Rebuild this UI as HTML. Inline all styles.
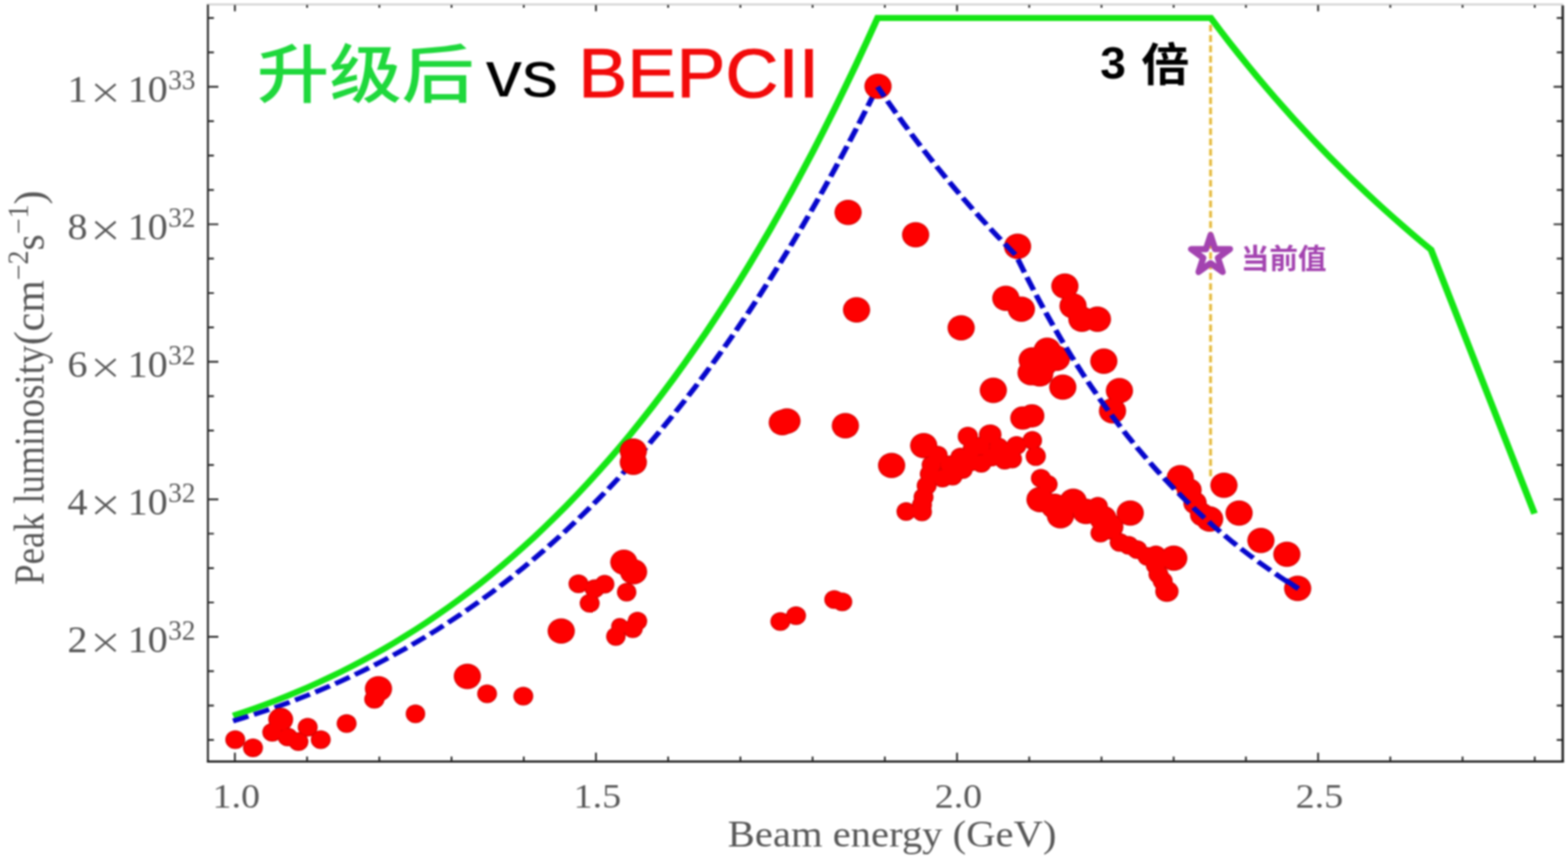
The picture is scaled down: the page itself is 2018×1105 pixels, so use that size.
<!DOCTYPE html>
<html lang="zh"><head><meta charset="utf-8"><title>Peak luminosity vs beam energy</title>
<style>
html,body{margin:0;padding:0;background:#fff;overflow:hidden}
body{width:2018px;height:1105px;font-family:"Liberation Sans",sans-serif}
svg{display:block}
</style></head><body>
<svg width="2018" height="1105" viewBox="0 0 2018 1105">
<defs><filter id="soft" x="0" y="0" width="2018" height="1105" filterUnits="userSpaceOnUse" color-interpolation-filters="sRGB"><feGaussianBlur stdDeviation="0.9"/></filter></defs>
<g filter="url(#soft)">
<rect x="0" y="0" width="2018" height="1105" fill="#fff"/>
<line x1="266" y1="5.8" x2="2012" y2="5.8" stroke="#d2d2d2" stroke-width="2.6"/>
<g stroke="#1c1c1c" fill="none">
<line x1="267.6" y1="6" x2="267.6" y2="980.5" stroke-width="2.4"/>
<line x1="2011.2" y1="7" x2="2011.2" y2="980.5" stroke-width="3"/>
<line x1="266.4" y1="979.6" x2="2012.7" y2="979.6" stroke-width="2.6"/>
<path d="M302.3 978.8v-10.5M302.3 6.4v8M395.2 978.8v-5.5M395.2 6.4v3.6M488.2 978.8v-5.5M488.2 6.4v3.6M581.1 978.8v-5.5M581.1 6.4v3.6M674.1 978.8v-5.5M674.1 6.4v3.6M767.0 978.8v-10.5M767.0 6.4v8M859.9 978.8v-5.5M859.9 6.4v3.6M952.9 978.8v-5.5M952.9 6.4v3.6M1045.8 978.8v-5.5M1045.8 6.4v3.6M1138.8 978.8v-5.5M1138.8 6.4v3.6M1231.7 978.8v-10.5M1231.7 6.4v8M1324.6 978.8v-5.5M1324.6 6.4v3.6M1417.6 978.8v-5.5M1417.6 6.4v3.6M1510.5 978.8v-5.5M1510.5 6.4v3.6M1603.5 978.8v-5.5M1603.5 6.4v3.6M1696.4 978.8v-10.5M1696.4 6.4v8M1789.3 978.8v-5.5M1789.3 6.4v3.6M1882.3 978.8v-5.5M1882.3 6.4v3.6M1975.2 978.8v-5.5M1975.2 6.4v3.6M268.5 23.1h6.8M2010.5 23.1h-7M268.5 67.4h6.8M2010.5 67.4h-7M268.5 111.6h12.5M2010.5 111.6h-11M268.5 155.8h6.8M2010.5 155.8h-7M268.5 200.1h6.8M2010.5 200.1h-7M268.5 244.3h6.8M2010.5 244.3h-7M268.5 288.5h12.5M2010.5 288.5h-11M268.5 332.7h6.8M2010.5 332.7h-7M268.5 377.0h6.8M2010.5 377.0h-7M268.5 421.2h6.8M2010.5 421.2h-7M268.5 465.4h12.5M2010.5 465.4h-11M268.5 509.6h6.8M2010.5 509.6h-7M268.5 553.9h6.8M2010.5 553.9h-7M268.5 598.1h6.8M2010.5 598.1h-7M268.5 642.3h12.5M2010.5 642.3h-11M268.5 686.5h6.8M2010.5 686.5h-7M268.5 730.8h6.8M2010.5 730.8h-7M268.5 775.0h6.8M2010.5 775.0h-7M268.5 819.2h12.5M2010.5 819.2h-11M268.5 863.4h6.8M2010.5 863.4h-7M268.5 907.7h6.8M2010.5 907.7h-7M268.5 951.9h6.8M2010.5 951.9h-7" stroke-width="2.2"/>
</g>
<g fill="#585858" font-family="'Liberation Serif', serif">
<text transform="translate(99.6,131.4) scale(1.08,1)" font-size="48" text-anchor="middle">1</text>
<path d="M122.8 108.2l26 22m0 -22l-26 22" stroke="#585858" stroke-width="2.7" fill="none"/>
<text transform="translate(164.2,131.4) scale(1.08,1)" font-size="48">10</text>
<text x="216.5" y="115.2" font-size="35">33</text>
<text transform="translate(99.6,308.3) scale(1.08,1)" font-size="48" text-anchor="middle">8</text>
<path d="M122.8 285.1l26 22m0 -22l-26 22" stroke="#585858" stroke-width="2.7" fill="none"/>
<text transform="translate(164.2,308.3) scale(1.08,1)" font-size="48">10</text>
<text x="216.5" y="292.1" font-size="35">32</text>
<text transform="translate(99.6,485.2) scale(1.08,1)" font-size="48" text-anchor="middle">6</text>
<path d="M122.8 462.0l26 22m0 -22l-26 22" stroke="#585858" stroke-width="2.7" fill="none"/>
<text transform="translate(164.2,485.2) scale(1.08,1)" font-size="48">10</text>
<text x="216.5" y="469.0" font-size="35">32</text>
<text transform="translate(99.6,662.1) scale(1.08,1)" font-size="48" text-anchor="middle">4</text>
<path d="M122.8 638.9l26 22m0 -22l-26 22" stroke="#585858" stroke-width="2.7" fill="none"/>
<text transform="translate(164.2,662.1) scale(1.08,1)" font-size="48">10</text>
<text x="216.5" y="645.9" font-size="35">32</text>
<text transform="translate(99.6,839.0) scale(1.08,1)" font-size="48" text-anchor="middle">2</text>
<path d="M122.8 815.8l26 22m0 -22l-26 22" stroke="#585858" stroke-width="2.7" fill="none"/>
<text transform="translate(164.2,839.0) scale(1.08,1)" font-size="48">10</text>
<text x="216.5" y="822.8" font-size="35">32</text>
<text x="304.1" y="1038.5" font-size="45" text-anchor="middle" textLength="61" lengthAdjust="spacingAndGlyphs">1.0</text>
<text x="768.8" y="1038.5" font-size="45" text-anchor="middle" textLength="61" lengthAdjust="spacingAndGlyphs">1.5</text>
<text x="1233.5" y="1038.5" font-size="45" text-anchor="middle" textLength="61" lengthAdjust="spacingAndGlyphs">2.0</text>
<text x="1698.1" y="1038.5" font-size="45" text-anchor="middle" textLength="61" lengthAdjust="spacingAndGlyphs">2.5</text>
<text x="936.6" y="1088.5" font-size="48" textLength="423" lengthAdjust="spacingAndGlyphs">Beam energy (GeV)</text>
<text transform="translate(56,752.5) rotate(-90)" font-size="55" textLength="308" lengthAdjust="spacingAndGlyphs">Peak luminosity</text>
<text transform="translate(56,444) rotate(-90)" font-size="55" textLength="199" lengthAdjust="spacingAndGlyphs">(cm<tspan dy="-20" font-size="37">−2</tspan><tspan dy="20">s</tspan><tspan dy="-20" font-size="37">−1</tspan><tspan dy="20">)</tspan></text>
</g>
<g transform="scale(1.14,1)" fill="none" stroke-linejoin="miter">
<path d="M263.14 920.61L275.26 916.00L287.39 911.19L299.52 906.17L311.64 900.92L323.77 895.45L335.90 889.74L348.02 883.80L360.15 877.61L372.28 871.17L384.40 864.47L396.53 857.50L408.66 850.26L420.78 842.74L432.91 834.93L445.04 826.83L457.16 818.43L469.29 809.72L481.41 800.69L493.54 791.34L505.67 781.65L517.79 771.63L529.92 761.26L542.05 750.53L554.17 739.44L566.30 727.98L578.43 716.14L590.55 703.91L602.68 691.28L614.81 678.25L626.93 664.81L639.06 650.94L651.19 636.65L663.31 621.91L675.44 606.72L687.57 591.08L699.69 574.97L711.82 558.39L723.95 541.32L736.07 523.76L748.20 505.69L760.32 487.11L772.45 468.00L784.58 448.36L796.70 428.18L808.83 407.45L820.96 386.16L833.08 364.29L845.21 341.84L857.34 318.80L869.46 295.15L881.59 270.89L893.72 246.00L905.84 220.48L917.97 194.32L930.10 167.49L942.22 140.00L954.35 111.84L966.48 82.98L978.60 53.42L990.73 23.15L1366.93 23.15L1377.29 38.75L1387.65 54.02L1398.00 68.97L1408.36 83.60L1418.72 97.92L1429.08 111.95L1439.44 125.69L1449.80 139.14L1460.15 152.32L1470.51 165.23L1480.87 177.88L1491.23 190.27L1501.59 202.41L1511.94 214.31L1522.30 225.97L1532.66 237.40L1543.02 248.61L1553.38 259.60L1563.74 270.37L1574.09 280.94L1584.45 291.30L1594.81 301.46L1605.17 311.42L1615.53 321.20L1732.37 660.80" stroke="#14e614" stroke-width="7.6"/>
<path d="M263.14 927.47L275.26 923.29L287.39 918.91L299.52 914.34L311.64 909.57L323.77 904.60L335.90 899.41L348.02 894.01L360.15 888.38L372.28 882.53L384.40 876.43L396.53 870.10L408.66 863.52L420.78 856.68L432.91 849.59L445.04 842.22L457.16 834.58L469.29 826.66L481.41 818.45L493.54 809.95L505.67 801.15L517.79 792.03L529.92 782.61L542.05 772.85L554.17 762.77L566.30 752.35L578.43 741.59L590.55 730.47L602.68 718.99L614.81 707.15L626.93 694.93L639.06 682.32L651.19 669.32L663.31 655.93L675.44 642.12L687.57 627.90L699.69 613.26L711.82 598.18L723.95 582.66L736.07 566.70L748.20 550.27L760.32 533.38L772.45 516.01L784.58 498.16L796.70 479.81L808.83 460.97L820.96 441.61L833.08 421.73L845.21 401.32L857.34 380.37L869.46 358.87L881.59 336.82L893.72 314.19L905.84 290.99L917.97 267.21L930.10 242.82L942.22 217.83L954.35 192.22L966.48 165.99L978.60 139.12L990.73 111.60" stroke="#0606cc" stroke-width="6.2" stroke-dasharray="18.3 6.7"/>
</g>
<g fill="#d80000">
<ellipse cx="302.8" cy="951.4" rx="12.8" ry="12.0"/>
<ellipse cx="325.6" cy="961.9" rx="12.8" ry="12.0"/>
<ellipse cx="361.3" cy="925.6" rx="16.0" ry="15.0"/>
<ellipse cx="350.4" cy="942.1" rx="12.8" ry="12.0"/>
<ellipse cx="370.2" cy="948.0" rx="12.8" ry="12.0"/>
<ellipse cx="384.1" cy="954.0" rx="12.8" ry="12.0"/>
<ellipse cx="396.0" cy="935.5" rx="12.8" ry="12.0"/>
<ellipse cx="412.8" cy="951.4" rx="12.8" ry="12.0"/>
<ellipse cx="446.1" cy="930.8" rx="12.8" ry="12.0"/>
<ellipse cx="487.1" cy="886.0" rx="17.5" ry="16.3"/>
<ellipse cx="481.8" cy="899.5" rx="13.0" ry="12.0"/>
<ellipse cx="534.7" cy="918.3" rx="12.5" ry="12.0"/>
<ellipse cx="601.5" cy="870.1" rx="17.5" ry="16.3"/>
<ellipse cx="626.9" cy="892.5" rx="12.7" ry="12.0"/>
<ellipse cx="673.5" cy="895.5" rx="12.8" ry="12.0"/>
<ellipse cx="722.3" cy="811.8" rx="17.5" ry="16.3"/>
<ellipse cx="744.5" cy="751.0" rx="12.8" ry="12.0"/>
<ellipse cx="758.9" cy="776.1" rx="12.8" ry="12.0"/>
<ellipse cx="765.3" cy="757.3" rx="12.8" ry="12.0"/>
<ellipse cx="778.2" cy="751.4" rx="12.5" ry="12.0"/>
<ellipse cx="802.9" cy="723.2" rx="17.5" ry="16.3"/>
<ellipse cx="815.4" cy="735.5" rx="17.5" ry="16.3"/>
<ellipse cx="806.5" cy="761.7" rx="12.5" ry="12.0"/>
<ellipse cx="792.6" cy="818.8" rx="12.5" ry="12.0"/>
<ellipse cx="797.6" cy="805.9" rx="11.0" ry="11.0"/>
<ellipse cx="814.4" cy="808.8" rx="12.8" ry="12.0"/>
<ellipse cx="820.4" cy="798.9" rx="12.5" ry="12.0"/>
<ellipse cx="1004.3" cy="799.5" rx="12.8" ry="12.0"/>
<ellipse cx="1024.5" cy="792.0" rx="12.8" ry="12.0"/>
<ellipse cx="1073.7" cy="771.2" rx="12.8" ry="12.0"/>
<ellipse cx="1084.0" cy="774.2" rx="12.8" ry="12.0"/>
<ellipse cx="815.1" cy="580.3" rx="17.5" ry="16.3"/>
<ellipse cx="815.1" cy="594.7" rx="17.5" ry="16.3"/>
<ellipse cx="1006.8" cy="543.6" rx="17.5" ry="16.3"/>
<ellipse cx="1012.8" cy="541.6" rx="17.5" ry="16.3"/>
<ellipse cx="1088.0" cy="547.6" rx="17.5" ry="16.3"/>
<ellipse cx="1147.5" cy="598.8" rx="17.5" ry="16.3"/>
<ellipse cx="1130.0" cy="111.0" rx="17.5" ry="16.3"/>
<ellipse cx="1091.5" cy="273.3" rx="17.5" ry="16.3"/>
<ellipse cx="1178.4" cy="302.0" rx="17.5" ry="16.3"/>
<ellipse cx="1309.6" cy="316.9" rx="17.5" ry="16.3"/>
<ellipse cx="1102.4" cy="398.6" rx="17.5" ry="16.3"/>
<ellipse cx="1237.0" cy="421.8" rx="17.5" ry="16.3"/>
<ellipse cx="1370.5" cy="368.0" rx="17.5" ry="16.3"/>
<ellipse cx="1294.5" cy="383.7" rx="17.5" ry="16.3"/>
<ellipse cx="1314.5" cy="397.7" rx="17.5" ry="16.3"/>
<ellipse cx="1381.0" cy="393.5" rx="17.5" ry="16.3"/>
<ellipse cx="1392.4" cy="410.6" rx="17.5" ry="16.3"/>
<ellipse cx="1412.4" cy="410.6" rx="17.5" ry="16.3"/>
<ellipse cx="1347.8" cy="450.5" rx="17.5" ry="16.3"/>
<ellipse cx="1328.4" cy="463.1" rx="17.5" ry="16.3"/>
<ellipse cx="1327.0" cy="479.5" rx="17.5" ry="16.3"/>
<ellipse cx="1338.1" cy="481.0" rx="17.5" ry="16.3"/>
<ellipse cx="1359.7" cy="460.9" rx="17.5" ry="16.3"/>
<ellipse cx="1344.0" cy="467.6" rx="17.5" ry="16.3"/>
<ellipse cx="1367.8" cy="498.0" rx="17.5" ry="16.3"/>
<ellipse cx="1278.4" cy="502.1" rx="17.5" ry="16.3"/>
<ellipse cx="1420.6" cy="464.6" rx="17.5" ry="16.3"/>
<ellipse cx="1440.7" cy="502.5" rx="17.5" ry="16.3"/>
<ellipse cx="1431.8" cy="528.5" rx="17.5" ry="16.3"/>
<ellipse cx="1316.2" cy="537.8" rx="16.0" ry="15.0"/>
<ellipse cx="1328.1" cy="534.9" rx="16.0" ry="15.0"/>
<ellipse cx="1188.8" cy="573.2" rx="17.5" ry="16.3"/>
<ellipse cx="1206.8" cy="585.6" rx="12.8" ry="12.0"/>
<ellipse cx="1199.0" cy="598.0" rx="12.8" ry="12.0"/>
<ellipse cx="1196.6" cy="609.8" rx="12.8" ry="12.0"/>
<ellipse cx="1192.6" cy="624.7" rx="12.8" ry="12.0"/>
<ellipse cx="1188.6" cy="639.6" rx="12.8" ry="12.0"/>
<ellipse cx="1186.6" cy="649.6" rx="12.8" ry="12.0"/>
<ellipse cx="1166.2" cy="658.1" rx="12.4" ry="12.0"/>
<ellipse cx="1186.6" cy="658.6" rx="12.8" ry="12.0"/>
<ellipse cx="1213.0" cy="615.0" rx="12.8" ry="12.0"/>
<ellipse cx="1226.0" cy="612.5" rx="12.8" ry="12.0"/>
<ellipse cx="1239.0" cy="604.0" rx="12.8" ry="12.0"/>
<ellipse cx="1222.0" cy="598.0" rx="12.8" ry="12.0"/>
<ellipse cx="1236.0" cy="588.0" rx="12.8" ry="12.0"/>
<ellipse cx="1245.6" cy="561.4" rx="13.0" ry="12.5"/>
<ellipse cx="1250.0" cy="594.0" rx="12.8" ry="12.0"/>
<ellipse cx="1252.0" cy="577.0" rx="12.8" ry="12.0"/>
<ellipse cx="1263.0" cy="596.0" rx="12.8" ry="12.0"/>
<ellipse cx="1262.0" cy="574.0" rx="12.8" ry="12.0"/>
<ellipse cx="1274.4" cy="558.9" rx="14.5" ry="13.0"/>
<ellipse cx="1276.0" cy="588.0" rx="12.8" ry="12.0"/>
<ellipse cx="1285.0" cy="575.0" rx="12.8" ry="12.0"/>
<ellipse cx="1290.0" cy="588.0" rx="12.8" ry="12.0"/>
<ellipse cx="1301.3" cy="579.8" rx="12.8" ry="12.0"/>
<ellipse cx="1308.3" cy="572.9" rx="12.8" ry="12.0"/>
<ellipse cx="1328.6" cy="566.5" rx="12.5" ry="12.0"/>
<ellipse cx="1333.0" cy="586.8" rx="13.0" ry="12.5"/>
<ellipse cx="1302.5" cy="590.5" rx="12.8" ry="12.0"/>
<ellipse cx="1293.0" cy="592.0" rx="12.8" ry="12.0"/>
<ellipse cx="1339.6" cy="615.2" rx="12.8" ry="12.0"/>
<ellipse cx="1348.3" cy="622.9" rx="12.8" ry="12.0"/>
<ellipse cx="1338.5" cy="642.6" rx="17.5" ry="16.3"/>
<ellipse cx="1357.1" cy="651.3" rx="17.5" ry="16.3"/>
<ellipse cx="1364.8" cy="663.4" rx="17.5" ry="16.3"/>
<ellipse cx="1381.2" cy="644.8" rx="17.5" ry="16.3"/>
<ellipse cx="1397.6" cy="657.9" rx="17.5" ry="16.3"/>
<ellipse cx="1412.9" cy="651.3" rx="12.8" ry="12.0"/>
<ellipse cx="1419.5" cy="666.7" rx="17.5" ry="16.3"/>
<ellipse cx="1454.6" cy="660.0" rx="17.5" ry="16.3"/>
<ellipse cx="1428.3" cy="677.6" rx="17.5" ry="16.3"/>
<ellipse cx="1416.3" cy="685.8" rx="12.8" ry="12.0"/>
<ellipse cx="1441.0" cy="697.8" rx="12.8" ry="12.0"/>
<ellipse cx="1452.6" cy="701.6" rx="12.8" ry="12.0"/>
<ellipse cx="1463.5" cy="707.1" rx="12.8" ry="12.0"/>
<ellipse cx="1476.7" cy="715.8" rx="12.8" ry="12.0"/>
<ellipse cx="1487.6" cy="713.7" rx="12.8" ry="12.0"/>
<ellipse cx="1510.6" cy="718.0" rx="17.5" ry="16.3"/>
<ellipse cx="1490.9" cy="738.8" rx="12.8" ry="12.0"/>
<ellipse cx="1496.4" cy="747.6" rx="12.8" ry="12.0"/>
<ellipse cx="1501.8" cy="760.7" rx="15.0" ry="13.5"/>
<ellipse cx="1487.5" cy="727.0" rx="12.8" ry="12.0"/>
<ellipse cx="1519.0" cy="614.5" rx="17.5" ry="16.3"/>
<ellipse cx="1530.5" cy="630.4" rx="16.0" ry="15.0"/>
<ellipse cx="1538.0" cy="647.0" rx="15.0" ry="14.5"/>
<ellipse cx="1547.0" cy="662.0" rx="15.5" ry="15.0"/>
<ellipse cx="1556.8" cy="667.6" rx="17.5" ry="16.3"/>
<ellipse cx="1575.2" cy="624.3" rx="17.5" ry="16.3"/>
<ellipse cx="1594.7" cy="660.0" rx="17.5" ry="16.3"/>
<ellipse cx="1622.8" cy="695.3" rx="17.5" ry="16.3"/>
<ellipse cx="1656.2" cy="713.0" rx="17.5" ry="16.3"/>
<ellipse cx="1670.1" cy="756.9" rx="17.5" ry="16.3"/>
</g>
<g fill="#fe0000">
<ellipse cx="302.8" cy="951.4" rx="11.4" ry="10.6"/>
<ellipse cx="325.6" cy="961.9" rx="11.4" ry="10.6"/>
<ellipse cx="361.3" cy="925.6" rx="14.6" ry="13.6"/>
<ellipse cx="350.4" cy="942.1" rx="11.4" ry="10.6"/>
<ellipse cx="370.2" cy="948.0" rx="11.4" ry="10.6"/>
<ellipse cx="384.1" cy="954.0" rx="11.4" ry="10.6"/>
<ellipse cx="396.0" cy="935.5" rx="11.4" ry="10.6"/>
<ellipse cx="412.8" cy="951.4" rx="11.4" ry="10.6"/>
<ellipse cx="446.1" cy="930.8" rx="11.4" ry="10.6"/>
<ellipse cx="487.1" cy="886.0" rx="16.1" ry="14.9"/>
<ellipse cx="481.8" cy="899.5" rx="11.6" ry="10.6"/>
<ellipse cx="534.7" cy="918.3" rx="11.1" ry="10.6"/>
<ellipse cx="601.5" cy="870.1" rx="16.1" ry="14.9"/>
<ellipse cx="626.9" cy="892.5" rx="11.3" ry="10.6"/>
<ellipse cx="673.5" cy="895.5" rx="11.4" ry="10.6"/>
<ellipse cx="722.3" cy="811.8" rx="16.1" ry="14.9"/>
<ellipse cx="744.5" cy="751.0" rx="11.4" ry="10.6"/>
<ellipse cx="758.9" cy="776.1" rx="11.4" ry="10.6"/>
<ellipse cx="765.3" cy="757.3" rx="11.4" ry="10.6"/>
<ellipse cx="778.2" cy="751.4" rx="11.1" ry="10.6"/>
<ellipse cx="802.9" cy="723.2" rx="16.1" ry="14.9"/>
<ellipse cx="815.4" cy="735.5" rx="16.1" ry="14.9"/>
<ellipse cx="806.5" cy="761.7" rx="11.1" ry="10.6"/>
<ellipse cx="792.6" cy="818.8" rx="11.1" ry="10.6"/>
<ellipse cx="797.6" cy="805.9" rx="9.6" ry="9.6"/>
<ellipse cx="814.4" cy="808.8" rx="11.4" ry="10.6"/>
<ellipse cx="820.4" cy="798.9" rx="11.1" ry="10.6"/>
<ellipse cx="1004.3" cy="799.5" rx="11.4" ry="10.6"/>
<ellipse cx="1024.5" cy="792.0" rx="11.4" ry="10.6"/>
<ellipse cx="1073.7" cy="771.2" rx="11.4" ry="10.6"/>
<ellipse cx="1084.0" cy="774.2" rx="11.4" ry="10.6"/>
<ellipse cx="815.1" cy="580.3" rx="16.1" ry="14.9"/>
<ellipse cx="815.1" cy="594.7" rx="16.1" ry="14.9"/>
<ellipse cx="1006.8" cy="543.6" rx="16.1" ry="14.9"/>
<ellipse cx="1012.8" cy="541.6" rx="16.1" ry="14.9"/>
<ellipse cx="1088.0" cy="547.6" rx="16.1" ry="14.9"/>
<ellipse cx="1147.5" cy="598.8" rx="16.1" ry="14.9"/>
<ellipse cx="1130.0" cy="111.0" rx="16.1" ry="14.9"/>
<ellipse cx="1091.5" cy="273.3" rx="16.1" ry="14.9"/>
<ellipse cx="1178.4" cy="302.0" rx="16.1" ry="14.9"/>
<ellipse cx="1309.6" cy="316.9" rx="16.1" ry="14.9"/>
<ellipse cx="1102.4" cy="398.6" rx="16.1" ry="14.9"/>
<ellipse cx="1237.0" cy="421.8" rx="16.1" ry="14.9"/>
<ellipse cx="1370.5" cy="368.0" rx="16.1" ry="14.9"/>
<ellipse cx="1294.5" cy="383.7" rx="16.1" ry="14.9"/>
<ellipse cx="1314.5" cy="397.7" rx="16.1" ry="14.9"/>
<ellipse cx="1381.0" cy="393.5" rx="16.1" ry="14.9"/>
<ellipse cx="1392.4" cy="410.6" rx="16.1" ry="14.9"/>
<ellipse cx="1412.4" cy="410.6" rx="16.1" ry="14.9"/>
<ellipse cx="1347.8" cy="450.5" rx="16.1" ry="14.9"/>
<ellipse cx="1328.4" cy="463.1" rx="16.1" ry="14.9"/>
<ellipse cx="1327.0" cy="479.5" rx="16.1" ry="14.9"/>
<ellipse cx="1338.1" cy="481.0" rx="16.1" ry="14.9"/>
<ellipse cx="1359.7" cy="460.9" rx="16.1" ry="14.9"/>
<ellipse cx="1344.0" cy="467.6" rx="16.1" ry="14.9"/>
<ellipse cx="1367.8" cy="498.0" rx="16.1" ry="14.9"/>
<ellipse cx="1278.4" cy="502.1" rx="16.1" ry="14.9"/>
<ellipse cx="1420.6" cy="464.6" rx="16.1" ry="14.9"/>
<ellipse cx="1440.7" cy="502.5" rx="16.1" ry="14.9"/>
<ellipse cx="1431.8" cy="528.5" rx="16.1" ry="14.9"/>
<ellipse cx="1316.2" cy="537.8" rx="14.6" ry="13.6"/>
<ellipse cx="1328.1" cy="534.9" rx="14.6" ry="13.6"/>
<ellipse cx="1188.8" cy="573.2" rx="16.1" ry="14.9"/>
<ellipse cx="1206.8" cy="585.6" rx="11.4" ry="10.6"/>
<ellipse cx="1199.0" cy="598.0" rx="11.4" ry="10.6"/>
<ellipse cx="1196.6" cy="609.8" rx="11.4" ry="10.6"/>
<ellipse cx="1192.6" cy="624.7" rx="11.4" ry="10.6"/>
<ellipse cx="1188.6" cy="639.6" rx="11.4" ry="10.6"/>
<ellipse cx="1186.6" cy="649.6" rx="11.4" ry="10.6"/>
<ellipse cx="1166.2" cy="658.1" rx="11.0" ry="10.6"/>
<ellipse cx="1186.6" cy="658.6" rx="11.4" ry="10.6"/>
<ellipse cx="1213.0" cy="615.0" rx="11.4" ry="10.6"/>
<ellipse cx="1226.0" cy="612.5" rx="11.4" ry="10.6"/>
<ellipse cx="1239.0" cy="604.0" rx="11.4" ry="10.6"/>
<ellipse cx="1222.0" cy="598.0" rx="11.4" ry="10.6"/>
<ellipse cx="1236.0" cy="588.0" rx="11.4" ry="10.6"/>
<ellipse cx="1245.6" cy="561.4" rx="11.6" ry="11.1"/>
<ellipse cx="1250.0" cy="594.0" rx="11.4" ry="10.6"/>
<ellipse cx="1252.0" cy="577.0" rx="11.4" ry="10.6"/>
<ellipse cx="1263.0" cy="596.0" rx="11.4" ry="10.6"/>
<ellipse cx="1262.0" cy="574.0" rx="11.4" ry="10.6"/>
<ellipse cx="1274.4" cy="558.9" rx="13.1" ry="11.6"/>
<ellipse cx="1276.0" cy="588.0" rx="11.4" ry="10.6"/>
<ellipse cx="1285.0" cy="575.0" rx="11.4" ry="10.6"/>
<ellipse cx="1290.0" cy="588.0" rx="11.4" ry="10.6"/>
<ellipse cx="1301.3" cy="579.8" rx="11.4" ry="10.6"/>
<ellipse cx="1308.3" cy="572.9" rx="11.4" ry="10.6"/>
<ellipse cx="1328.6" cy="566.5" rx="11.1" ry="10.6"/>
<ellipse cx="1333.0" cy="586.8" rx="11.6" ry="11.1"/>
<ellipse cx="1302.5" cy="590.5" rx="11.4" ry="10.6"/>
<ellipse cx="1293.0" cy="592.0" rx="11.4" ry="10.6"/>
<ellipse cx="1339.6" cy="615.2" rx="11.4" ry="10.6"/>
<ellipse cx="1348.3" cy="622.9" rx="11.4" ry="10.6"/>
<ellipse cx="1338.5" cy="642.6" rx="16.1" ry="14.9"/>
<ellipse cx="1357.1" cy="651.3" rx="16.1" ry="14.9"/>
<ellipse cx="1364.8" cy="663.4" rx="16.1" ry="14.9"/>
<ellipse cx="1381.2" cy="644.8" rx="16.1" ry="14.9"/>
<ellipse cx="1397.6" cy="657.9" rx="16.1" ry="14.9"/>
<ellipse cx="1412.9" cy="651.3" rx="11.4" ry="10.6"/>
<ellipse cx="1419.5" cy="666.7" rx="16.1" ry="14.9"/>
<ellipse cx="1454.6" cy="660.0" rx="16.1" ry="14.9"/>
<ellipse cx="1428.3" cy="677.6" rx="16.1" ry="14.9"/>
<ellipse cx="1416.3" cy="685.8" rx="11.4" ry="10.6"/>
<ellipse cx="1441.0" cy="697.8" rx="11.4" ry="10.6"/>
<ellipse cx="1452.6" cy="701.6" rx="11.4" ry="10.6"/>
<ellipse cx="1463.5" cy="707.1" rx="11.4" ry="10.6"/>
<ellipse cx="1476.7" cy="715.8" rx="11.4" ry="10.6"/>
<ellipse cx="1487.6" cy="713.7" rx="11.4" ry="10.6"/>
<ellipse cx="1510.6" cy="718.0" rx="16.1" ry="14.9"/>
<ellipse cx="1490.9" cy="738.8" rx="11.4" ry="10.6"/>
<ellipse cx="1496.4" cy="747.6" rx="11.4" ry="10.6"/>
<ellipse cx="1501.8" cy="760.7" rx="13.6" ry="12.1"/>
<ellipse cx="1487.5" cy="727.0" rx="11.4" ry="10.6"/>
<ellipse cx="1519.0" cy="614.5" rx="16.1" ry="14.9"/>
<ellipse cx="1530.5" cy="630.4" rx="14.6" ry="13.6"/>
<ellipse cx="1538.0" cy="647.0" rx="13.6" ry="13.1"/>
<ellipse cx="1547.0" cy="662.0" rx="14.1" ry="13.6"/>
<ellipse cx="1556.8" cy="667.6" rx="16.1" ry="14.9"/>
<ellipse cx="1575.2" cy="624.3" rx="16.1" ry="14.9"/>
<ellipse cx="1594.7" cy="660.0" rx="16.1" ry="14.9"/>
<ellipse cx="1622.8" cy="695.3" rx="16.1" ry="14.9"/>
<ellipse cx="1656.2" cy="713.0" rx="16.1" ry="14.9"/>
<ellipse cx="1670.1" cy="756.9" rx="16.1" ry="14.9"/>
</g>
<g transform="scale(1.14,1)" fill="none">
<path d="M990.73 111.60L1000.49 127.71L1010.25 143.43L1020.02 158.77L1029.78 173.74L1039.54 188.35L1049.30 202.62L1059.07 216.55L1068.83 230.15L1078.59 243.44L1088.35 256.42L1098.12 269.10L1107.88 281.48L1117.64 293.59L1127.40 305.43L1137.17 316.99L1146.93 328.30L1157.56 352.74L1168.19 376.15L1178.82 398.57L1189.44 420.04L1200.07 440.63L1210.70 460.35L1221.33 479.27L1231.96 497.41L1242.59 514.81L1253.22 531.50L1263.85 547.53L1274.47 562.91L1285.10 577.68L1295.73 591.87L1306.36 605.49L1316.99 618.59L1327.62 631.17L1338.25 643.27L1348.87 654.90L1359.50 666.09L1370.13 676.85L1380.76 687.20L1391.39 697.16L1402.02 706.76L1412.65 715.99L1423.27 724.88L1433.90 733.44L1444.53 741.69L1455.16 749.64L1465.79 757.30" stroke="#0606cc" stroke-width="6.2" stroke-linejoin="bevel" stroke-dasharray="18.4 6.78" stroke-dashoffset="3.8"/>
<path d="M1451.49 746.3L1465.79 757.3" stroke="#0606cc" stroke-width="6.2"/>
</g>
<line x1="1558" y1="31.9" x2="1558" y2="617" stroke="#fff6b5" stroke-width="5" stroke-dasharray="8.7 4.6"/>
<line x1="1558" y1="31.9" x2="1558" y2="617" stroke="#e2b238" stroke-width="3" stroke-dasharray="8.7 4.6"/>
<polygon points="1558.0,302.4 1563.9,320.5 1582.9,320.5 1567.5,331.7 1573.4,349.8 1558.0,338.6 1542.6,349.8 1548.5,331.7 1533.1,320.5 1552.1,320.5" fill="none" stroke="#a343b0" stroke-width="8.1" stroke-linejoin="round"/>
<text x="330.4" y="124.8" font-size="82" font-weight="500" fill="#1fd83c" font-family="'Liberation Sans', 'Noto Sans CJK SC', sans-serif" textLength="280" lengthAdjust="spacingAndGlyphs">升级后</text>
<g font-family="'Liberation Sans', sans-serif">
<text x="625.3" y="124.3" font-size="84" fill="#000" textLength="93" lengthAdjust="spacingAndGlyphs">vs</text>
<text x="744.3" y="124.9" font-size="88.5" fill="#f20a0a" stroke="#f20a0a" stroke-width="1.1" textLength="310" lengthAdjust="spacingAndGlyphs">BEPCII</text>
<text x="1416" y="100.5" font-size="57.5" font-weight="bold" fill="#000" textLength="33" lengthAdjust="spacingAndGlyphs">3</text>
</g>
<text x="1468.7" y="104.1" font-size="57.5" font-weight="bold" fill="#000" font-family="'Liberation Sans', 'Noto Sans CJK SC', sans-serif" textLength="62" lengthAdjust="spacingAndGlyphs">倍</text>
<text x="1597.1" y="345.8" font-size="36.5" font-weight="bold" fill="#a343b0" font-family="'Liberation Sans', 'Noto Sans CJK SC', sans-serif" textLength="110" lengthAdjust="spacingAndGlyphs">当前值</text>
</g>
</svg>
</body></html>
